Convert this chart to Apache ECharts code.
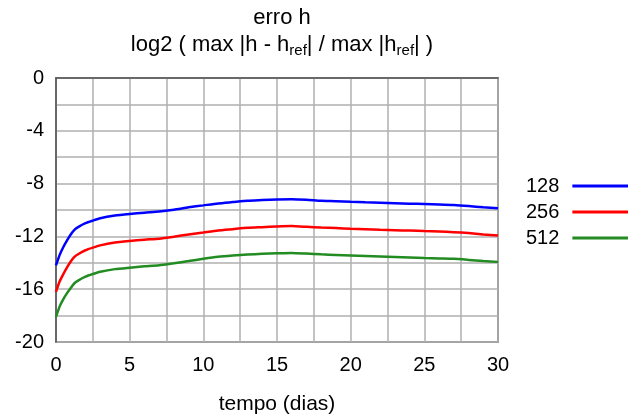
<!DOCTYPE html>
<html>
<head>
<meta charset="utf-8">
<script src="https://cdn.jsdelivr.net/npm/echarts@6/dist/echarts.min.js"></script>
<style>
  html, body { margin: 0; padding: 0; background: #fff; }
  #chart { width: 628px; height: 420px; }
</style>
</head>
<body>
<div id="chart"></div>
<script>
const dias = [0, 0.25, 0.5, 0.75, 1, 1.25, 1.5, 2, 2.5, 3, 4, 5, 6, 7, 8, 9, 10, 11, 12, 13, 14, 15, 16, 17, 18, 19, 20, 21, 22, 23, 24, 25, 26, 27, 28, 29, 30];

const erro128 = [-14.2, -13.4, -12.8, -12.3, -11.85, -11.5, -11.3, -11.0, -10.8, -10.62, -10.42, -10.3, -10.2, -10.12, -9.98, -9.8, -9.65, -9.5, -9.4, -9.3, -9.25, -9.2, -9.18, -9.22, -9.3, -9.33, -9.38, -9.42, -9.45, -9.48, -9.52, -9.55, -9.58, -9.62, -9.7, -9.8, -9.87];
const erro256 = [-16.2, -15.4, -14.85, -14.35, -13.9, -13.55, -13.35, -13.05, -12.85, -12.68, -12.47, -12.35, -12.25, -12.17, -12.02, -11.85, -11.7, -11.55, -11.45, -11.35, -11.3, -11.25, -11.22, -11.27, -11.33, -11.37, -11.42, -11.46, -11.5, -11.53, -11.56, -11.6, -11.63, -11.68, -11.75, -11.85, -11.93];
const erro512 = [-18.1, -17.3, -16.75, -16.3, -15.9, -15.55, -15.35, -15.05, -14.85, -14.68, -14.48, -14.37, -14.27, -14.18, -14.03, -13.87, -13.7, -13.55, -13.45, -13.37, -13.32, -13.28, -13.25, -13.3, -13.36, -13.4, -13.44, -13.48, -13.52, -13.56, -13.6, -13.64, -13.67, -13.7, -13.78, -13.87, -13.93];

const nomes = ['128', '256', '512'];
const cores = ['#0000ff', '#ff0000', '#228b22'];

const fonte = 'Liberation Sans, Arial, sans-serif';

const chart = echarts.init(document.getElementById('chart'), null, { renderer: 'canvas' });

function serie(nome, valores, cor) {
  return {
    name: nome,
    type: 'line',
    data: dias.map((d, i) => [d, valores[i]]),
    smooth: 0.2,
    showSymbol: false,
    symbol: 'none',
    lineStyle: { color: cor, width: 2.5 },
    itemStyle: { color: cor },
    animation: false
  };
}

chart.setOption({
  animation: false,
  title: [{
    text: 'erro h',
    left: 277,
    top: 2,
    textAlign: 'center',
    textStyle: { fontFamily: fonte, fontSize: 22, fontWeight: 'normal', color: '#000' }
  }, {
    text: 'log2 ( max |h - h{s|ref}| / max |h{s|ref}| )',
    left: 277,
    top: 27,
    textAlign: 'center',
    textStyle: {
      fontFamily: fonte, fontSize: 22, fontWeight: 'normal', color: '#000',
      rich: {
        s: { fontFamily: fonte, fontSize: 15, color: '#000', padding: [11, 0, 0, 0] }
      }
    }
  }],
  grid: { left: 56, right: 130, top: 78, bottom: 76, show: true, borderColor: '#555', borderWidth: 1.5, containLabel: false },
  legend: {
    orient: 'vertical',
    left: 521,
    top: 171,
    align: 'right',
    itemGap: 6,
    itemWidth: 60,
    itemHeight: 3,
    icon: 'rect',
    data: nomes,
    textStyle: { fontFamily: fonte, fontSize: 20, color: '#000', padding: [0, 8, 0, 0] }
  },
  xAxis: {
    type: 'value',
    min: 0,
    max: 30,
    interval: 5,
    name: 'tempo (dias)',
    nameLocation: 'middle',
    nameGap: 52,
    nameTextStyle: { fontFamily: fonte, fontSize: 21, color: '#000' },
    axisLine: { show: true, lineStyle: { color: '#555', width: 1.5 } },
    axisTick: { show: false },
    minorTick: { show: false, splitNumber: 2 },
    splitLine: { show: true, lineStyle: { color: '#b0b0b0', width: 1.5 } },
    minorSplitLine: { show: true, lineStyle: { color: '#b0b0b0', width: 1.5 } },
    axisLabel: { fontFamily: fonte, fontSize: 20, color: '#000', margin: 13 }
  },
  yAxis: {
    type: 'value',
    min: -20,
    max: 0,
    interval: 4,
    axisLine: { show: true, lineStyle: { color: '#555', width: 1.5 } },
    axisTick: { show: false },
    minorTick: { show: false, splitNumber: 2 },
    splitLine: { show: true, lineStyle: { color: '#b0b0b0', width: 1.5 } },
    minorSplitLine: { show: true, lineStyle: { color: '#b0b0b0', width: 1.5 } },
    axisLabel: { fontFamily: fonte, fontSize: 20, color: '#000', margin: 12 }
  },
  series: [
    serie(nomes[0], erro128, cores[0]),
    serie(nomes[1], erro256, cores[1]),
    serie(nomes[2], erro512, cores[2])
  ]
});
</script>
</body>
</html>
